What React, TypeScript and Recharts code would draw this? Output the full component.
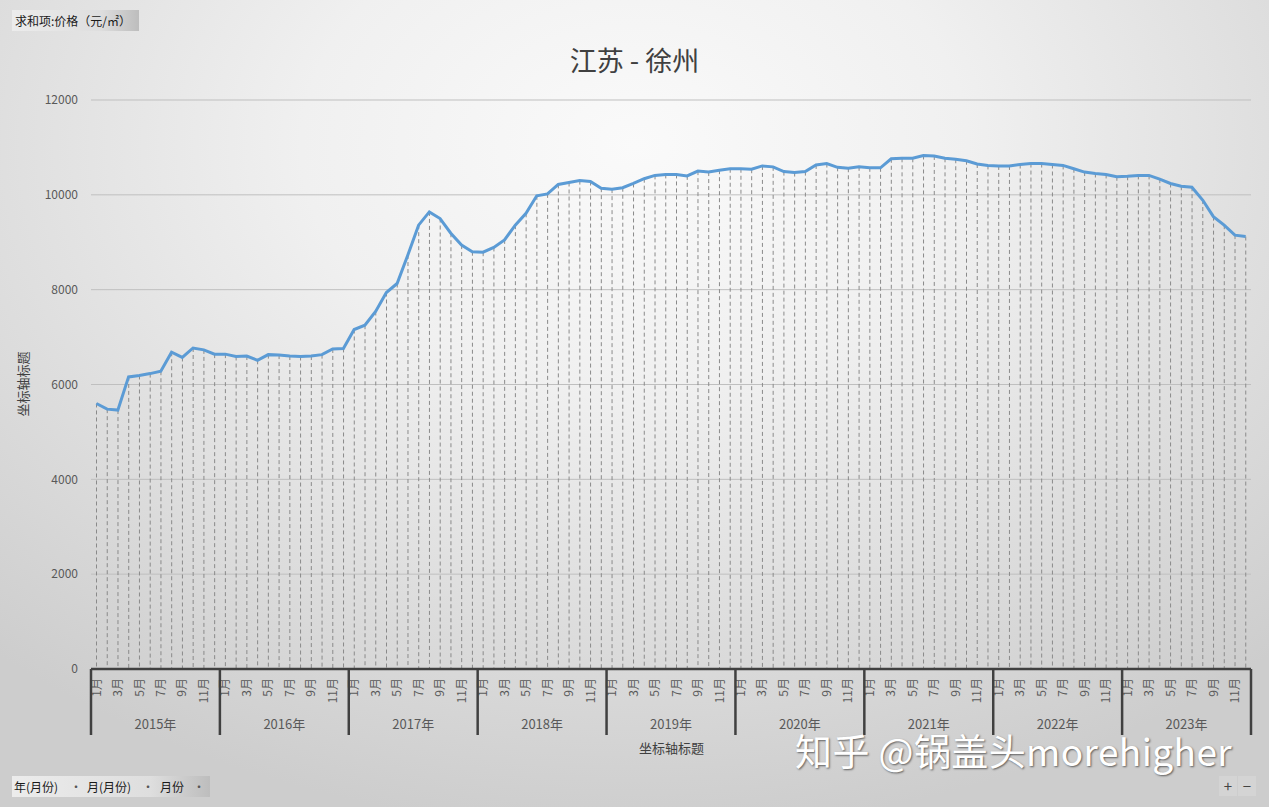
import React from 'react';
import { ComposedChart, Line, Bar, XAxis, YAxis, CartesianGrid } from 'recharts';

const years = ['2015年', '2016年', '2017年', '2018年', '2019年', '2020年', '2021年', '2022年', '2023年'];
const monthNums = [1, 2, 3, 4, 5, 6, 7, 8, 9, 10, 11, 12];

// 价格（元/㎡），按月
const p2015 = [5600, 5480, 5460, 6160, 6190, 6230, 6280, 6680, 6570, 6770, 6730, 6640];
const p2016 = [6640, 6590, 6600, 6510, 6630, 6620, 6600, 6590, 6600, 6630, 6750, 6760];
const p2017 = [7160, 7250, 7540, 7940, 8130, 8730, 9360, 9640, 9500, 9190, 8940, 8800];
const p2018 = [8790, 8890, 9050, 9360, 9610, 9980, 10020, 10220, 10260, 10300, 10280, 10140];
const p2019 = [10120, 10150, 10240, 10340, 10410, 10430, 10430, 10400, 10500, 10480, 10520, 10550];
const p2020 = [10550, 10540, 10610, 10590, 10490, 10470, 10490, 10630, 10660, 10580, 10560, 10590];
const p2021 = [10570, 10570, 10760, 10770, 10770, 10830, 10820, 10770, 10750, 10720, 10650, 10620];
const p2022 = [10610, 10610, 10640, 10660, 10660, 10640, 10620, 10550, 10480, 10450, 10430, 10380];
const p2023 = [10390, 10410, 10410, 10330, 10240, 10180, 10160, 9890, 9540, 9360, 9150, 9120];

const yTicks = [0, 2000, 4000, 6000, 8000, 10000, 12000];

const priceByYear = [p2015, p2016, p2017, p2018, p2019, p2020, p2021, p2022, p2023];

const data = years.flatMap((yr, yi) =>
  monthNums.map((m, mi) => ({
    key: `${yr}-${m}`,
    year: yr,
    month: m,
    price: priceByYear[yi][mi],
  }))
);

const W = 1269;
const H = 807;
const margin = { top: 100, right: 18, left: 31, bottom: 72 };
const yAxisW = 60;
const bandW = (W - margin.left - margin.right - yAxisW) / data.length;

const font = '"Noto Sans CJK SC", "Noto Sans", sans-serif';
const axisText = '#595959';
const dark = '#404040';

const MonthTick = (props: any) => {
  const { x, y, payload } = props;
  const row = data[payload.index];
  if (!row || row.month % 2 === 0) return null;
  return (
    <text
      x={x}
      y={y + 1}
      dy="0.35em"
      textAnchor="end"
      transform={`rotate(-90, ${x}, ${y + 1})`}
      fill={axisText}
      fontSize={12}
      fontFamily={font}
    >
      {`${row.month}月`}
    </text>
  );
};

const YearTick = (props: any) => {
  const { x, y, payload } = props;
  const row = data[payload.index];
  if (!row) return null;
  const parts: React.ReactNode[] = [];
  if (row.month === 1) {
    parts.push(
      <line key="l" x1={x - bandW / 2} x2={x - bandW / 2} y1={y - 38} y2={y + 28} stroke={dark} strokeWidth={2.5} />
    );
  }
  if (row.month === 12 && payload.index === data.length - 1) {
    parts.push(
      <line key="r" x1={x + bandW / 2} x2={x + bandW / 2} y1={y - 38} y2={y + 28} stroke={dark} strokeWidth={2.5} />
    );
  }
  if (row.month === 6) {
    parts.push(
      <text key="t" x={x + bandW / 2} y={y + 17} dy="0.35em" textAnchor="middle" fill={axisText} fontSize={13} fontFamily={font}>
        {row.year}
      </text>
    );
  }
  return <g>{parts}</g>;
};

const DropLine = (props: any) => {
  const { x, y, width, height } = props;
  if (height == null || height <= 0) return null;
  const cx = x + width / 2;
  return <line x1={cx} x2={cx} y1={y} y2={y + height} stroke="#8a8a8a" strokeWidth={1} strokeDasharray="4 3" />;
};

const btnBg = 'linear-gradient(90deg, #ececec 0%, #dedede 70%, #bdbdbd 100%)';

const fieldSpan = (w: number, pad: number): React.CSSProperties => ({
  width: w,
  paddingLeft: pad,
  boxSizing: 'border-box',
});

const dotSpan: React.CSSProperties = { width: 12, textAlign: 'center', color: '#555' };

export default function App() {
  return (
    <div
      style={{
        position: 'absolute',
        left: 0,
        top: 0,
        width: W,
        height: H,
        overflow: 'hidden',
        fontFamily: font,
        background: 'radial-gradient(ellipse 75% 85% at 50% 18%, #fafafa 0%, #f0f0f0 35%, #dddddd 70%, #cdcdcd 100%)',
      }}
    >
      <div
        style={{
          position: 'absolute',
          left: 12,
          top: 10,
          width: 127,
          height: 21,
          lineHeight: '21px',
          fontSize: 12,
          color: '#1a1a1a',
          paddingLeft: 3,
          boxSizing: 'border-box',
          background: btnBg,
        }}
      >
        求和项:价格（元/㎡）
      </div>

      <div
        style={{
          position: 'absolute',
          left: 0,
          top: 40,
          width: W,
          textAlign: 'center',
          fontSize: 27,
          color: '#404040',
        }}
      >
        江苏 - 徐州
      </div>

      <ComposedChart width={W} height={H} data={data} margin={margin} barCategoryGap={0}>
        <CartesianGrid vertical={false} stroke="#bfbfbf" />
        <YAxis
          width={yAxisW}
          domain={[0, 12000]}
          ticks={yTicks}
          axisLine={false}
          tickLine={false}
          tickMargin={7}
          tick={{ fill: axisText, fontSize: 12, fontFamily: font }}
        />
        <XAxis
          dataKey="key"
          interval={0}
          height={30}
          axisLine={{ stroke: dark, strokeWidth: 2.5 }}
          tickLine={false}
          tick={<MonthTick />}
        />
        <XAxis
          xAxisId="yr"
          dataKey="key"
          interval={0}
          height={36}
          axisLine={false}
          tickLine={false}
          tick={<YearTick />}
        />
        <Bar dataKey="price" shape={<DropLine />} isAnimationActive={false} />
        <Line
          type="linear"
          dataKey="price"
          stroke="#5B9BD5"
          strokeWidth={3}
          dot={false}
          activeDot={false}
          isAnimationActive={false}
        />
      </ComposedChart>

      <div
        style={{
          position: 'absolute',
          left: 22,
          top: 384,
          fontSize: 13,
          color: '#404040',
          transform: 'translate(-50%, -50%) rotate(-90deg)',
          whiteSpace: 'nowrap',
        }}
      >
        坐标轴标题
      </div>

      <div
        style={{
          position: 'absolute',
          left: 0,
          top: 738,
          width: W,
          paddingLeft: 74,
          boxSizing: 'border-box',
          textAlign: 'center',
          fontSize: 13,
          color: '#404040',
        }}
      >
        坐标轴标题
      </div>

      <div
        style={{
          position: 'absolute',
          left: 795,
          top: 732,
          fontSize: 37,
          lineHeight: '37px',
          letterSpacing: 0.4,
          color: '#ffffff',
          textShadow: '1px 1px 2px rgba(0,0,0,0.55)',
          whiteSpace: 'nowrap',
        }}
      >
        知乎 @锅盖头morehigher
      </div>

      <div
        style={{
          position: 'absolute',
          left: 12,
          top: 776,
          width: 198,
          height: 21,
          lineHeight: '21px',
          fontSize: 12,
          color: '#1a1a1a',
          background: btnBg,
          display: 'flex',
          whiteSpace: 'nowrap',
        }}
      >
        <span style={fieldSpan(58, 2)}>年(月份)</span>
        <span style={dotSpan}>·</span>
        <span style={fieldSpan(60, 5)}>月(月份)</span>
        <span style={dotSpan}>·</span>
        <span style={fieldSpan(39, 6)}>月份</span>
        <span style={dotSpan}>·</span>
      </div>

      <div
        style={{
          position: 'absolute',
          left: 1219,
          top: 776,
          width: 37,
          height: 20,
          display: 'flex',
          fontSize: 15,
          color: '#444',
        }}
      >
        <span style={{ width: 18, textAlign: 'center', background: '#d4d4d4', marginRight: 1, lineHeight: '20px' }}>+</span>
        <span style={{ width: 18, textAlign: 'center', background: '#d4d4d4', lineHeight: '20px' }}>−</span>
      </div>
    </div>
  );
}
